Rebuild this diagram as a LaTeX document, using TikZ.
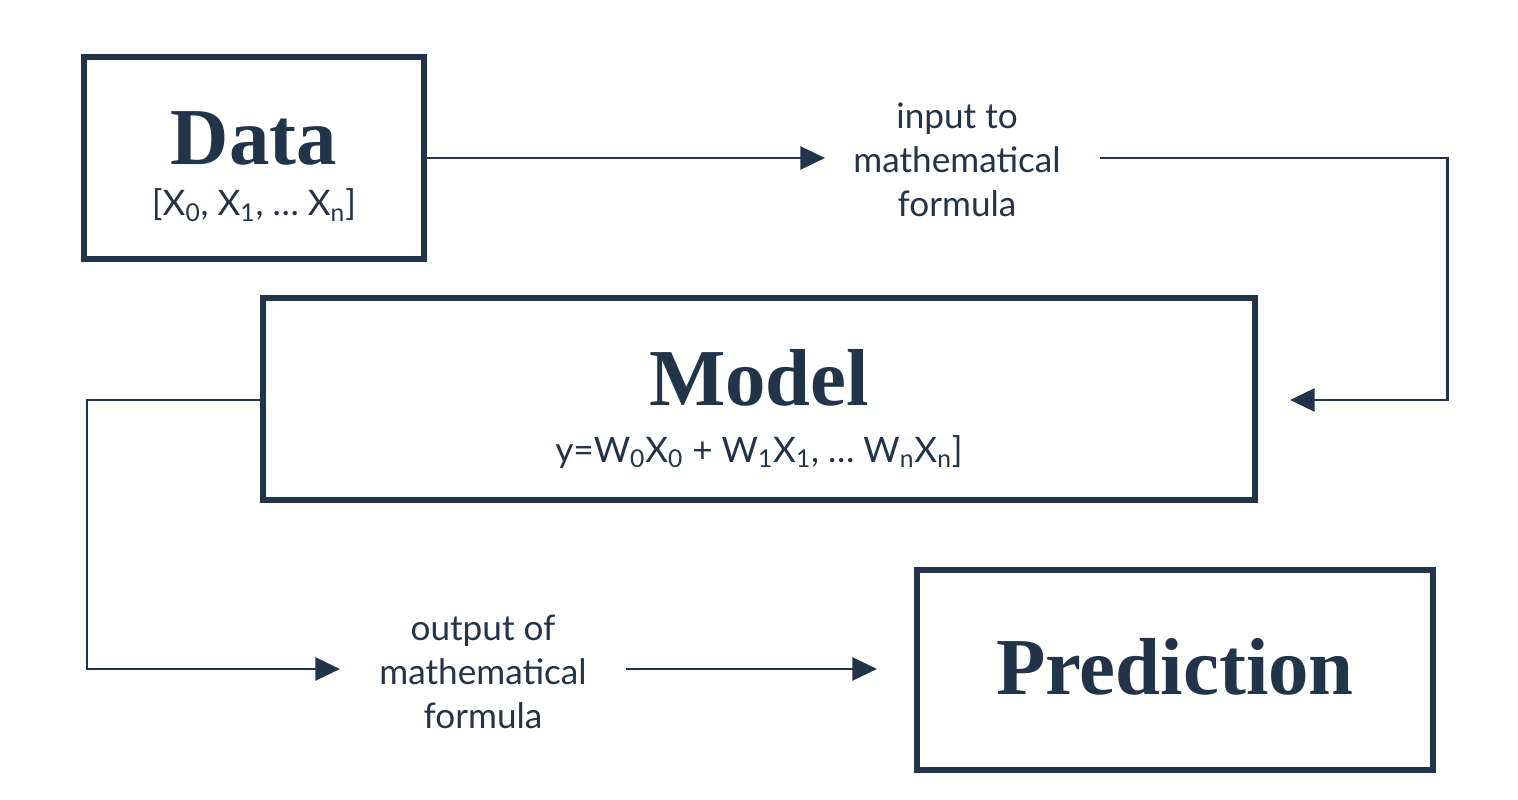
\documentclass[tikz,border=0pt]{standalone}
\usepackage{fontspec}
\setmainfont{Lato}
\newfontfamily\headfont{Liberation Serif}
\usetikzlibrary{arrows.meta}
\definecolor{navy}{HTML}{22344A}

\begin{document}
\begin{tikzpicture}[x=0.02cm, y=-0.02cm, navy,
	box/.style={draw=navy, line width=3.4pt, inner sep=0pt},
	lbl/.style={align=center, font=\fontsize{20}{25}\selectfont, text=navy},
	flow/.style={navy, line width=1.7pt, -{Triangle[length=14pt,width=13pt]}}]
	\useasboundingbox (0,0) rectangle (1518,800);

	\node[box, minimum width=340*0.02cm, minimum height=202*0.02cm] (data) at (254,158) {};
	\node[box, minimum width=992*0.02cm, minimum height=202*0.02cm] (model) at (759,399) {};
	\node[box, minimum width=516*0.02cm, minimum height=200*0.02cm] (pred) at (1175,670) {};

	\node[font=\headfont\bfseries\fontsize{46}{46}\selectfont] (dtitle) at (254,138) {Data};
	\node[font=\fontsize{20}{24}\selectfont] (dsub) at (254,205) {[X\textsubscript{0}, X\textsubscript{1}, \dots\ X\textsubscript{n}]};
	\node[font=\headfont\bfseries\fontsize{46}{46}\selectfont] (mtitle) at (759,378) {Model};
	\node[font=\fontsize{20}{24}\selectfont] (msub) at (759,452) {y=W\textsubscript{0}X\textsubscript{0} + W\textsubscript{1}X\textsubscript{1}, \dots\ W\textsubscript{n}X\textsubscript{n}]};
	\node[font=\headfont\bfseries\fontsize{46}{46}\selectfont] (ptitle) at (1175,667) {Prediction};

	\node[lbl] (input) at (957,160) {input to\\mathematical\\formula};
	\node[lbl] (output) at (483,672) {output of\\mathematical\\formula};

	\coordinate (in1) at (825,158);
	\coordinate (in2) at (1100,158);
	\coordinate (in3) at (1290,400);
	\coordinate (out1) at (340,669);
	\coordinate (out2) at (626,669);
	\coordinate (out3) at (877,669);

	\draw[flow] (data.east |- in1) -- (in1);
	\draw[flow] (in2) -| (1447,400) -- (in3);
	\draw[flow] (model.west |- 0,400) -| (87,669) -- (out1);
	\draw[flow] (out2) -- (out3);
\end{tikzpicture}
\end{document}
